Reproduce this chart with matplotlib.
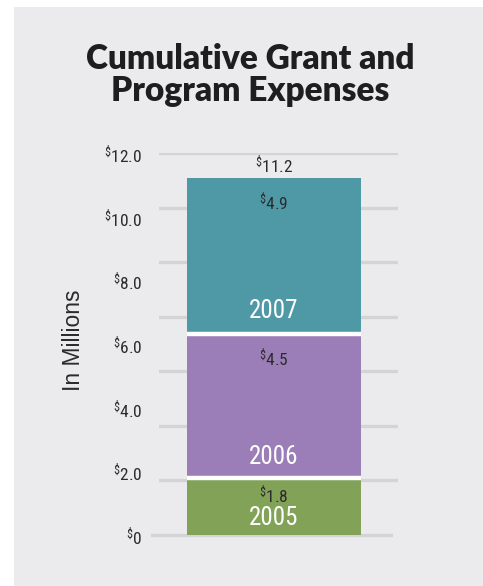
import numpy as np
import matplotlib
matplotlib.use("Agg")
import matplotlib.pyplot as plt
from matplotlib import font_manager
from matplotlib.patches import Rectangle

years = ["2005", "2006", "2007"]
amounts = [1.8, 4.5, 4.9]
total_label = "11.2"
y_ticks = [0, 2, 4, 6, 8, 10, 12]
y_tick_labels = ["0", "2.0", "4.0", "6.0", "8.0", "10.0", "12.0"]
colors = ["#82a258", "#9b7db8", "#4f99a7"]

BG = "#ebebed"
GRID = "#d4d4d6"
TEXT = "#2b2b2b"


def pick_font(candidates):
    names = {f.name for f in font_manager.fontManager.ttflist}
    for c in candidates:
        if c in names:
            return c
    return "DejaVu Sans"


narrow = pick_font(["Roboto Condensed", "Liberation Sans Narrow", "Roboto"])
title_font = pick_font(["Lato", "Open Sans", "Noto Sans"])

plt.rcParams["font.family"] = [narrow, "DejaVu Sans"]
plt.rcParams["mathtext.fontset"] = "custom"
plt.rcParams["mathtext.rm"] = narrow
plt.rcParams["mathtext.it"] = narrow
plt.rcParams["mathtext.bf"] = narrow


def money(s):
    return r"$^{\$}$" + s


fig = plt.figure(figsize=(4.83, 5.86), dpi=100)
fig.patch.set_facecolor("white")
fig.patches.append(Rectangle((14 / 483, 0), 1 - 14 / 483, 1 - 7 / 586,
                             transform=fig.transFigure, facecolor=BG,
                             edgecolor="none", zorder=-10))

ax = fig.add_axes([159 / 483, 51 / 586, 239 / 483, 382 / 586])
ax.set_facecolor("none")

w = 0.7
ax.set_xlim((159 - 274) / 174 * w, (398 - 274) / 174 * w)
ax.set_ylim(0, 12)

# gridlines are evenly spaced but not on the tick values
for g in np.linspace(0, 12, 8)[1:]:
    ax.axhline(g, color=GRID, lw=2.4, zorder=0)
ax.axhline(0, xmin=-0.03, xmax=0.97, color=GRID, lw=2.4, zorder=0,
           clip_on=False)

bottoms = np.concatenate([[0], np.cumsum(amounts)[:-1]])
ax.bar([0] * 3, amounts, bottom=bottoms, width=w, color=colors,
       edgecolor="none", zorder=2)
# white gaps between the stacked segments
ax.hlines(bottoms[1:], -w / 2, w / 2, color="white", lw=3.2, zorder=2.5)

val_off = [-12, -17, -17]
year_off = [12, 15, 17]
for yr, amt, b, vo, yo in zip(years, amounts, bottoms, val_off, year_off):
    ax.annotate(money(f"{amt:.1f}"), (0, b + amt), xytext=(0, vo),
                textcoords="offset points", ha="center", va="center",
                fontsize=12.5, color=TEXT, zorder=3)
    ax.annotate(yr, (0, b), xytext=(0, yo), textcoords="offset points",
                ha="center", va="center", fontsize=18, color="white",
                zorder=3)

ax.annotate(money(total_label), (0, sum(amounts)), xytext=(0, 1.5),
            textcoords="offset points", ha="center", va="bottom",
            fontsize=12.5, color=TEXT)

ax.set_yticks(y_ticks)
ax.set_yticklabels([money(t) for t in y_tick_labels], fontsize=12.5,
                   color=TEXT)
ax.tick_params(axis="y", length=0, pad=12)
ax.set_xticks([])
for s in ax.spines.values():
    s.set_visible(False)

fig.text(74 / 483, 1 - 340 / 586, "In Millions", rotation=90,
         ha="center", va="center", fontsize=16.5, color=TEXT,
         family="Liberation Sans")

fig.text(250 / 483, 1 - 75 / 586, "Cumulative Grant and\nProgram Expenses",
         ha="center", va="center", fontsize=24, fontweight="heavy",
         color="#1e1e1e", family=title_font, linespacing=1.0)

fig.savefig("out.png", dpi=100, facecolor=fig.get_facecolor())
